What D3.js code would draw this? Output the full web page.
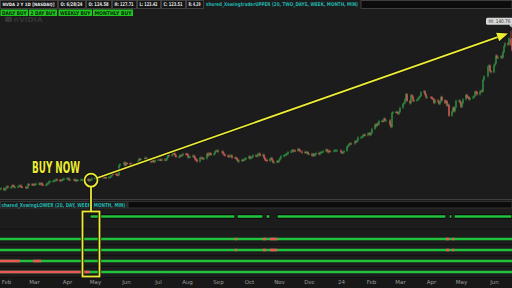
<!DOCTYPE html>
<html>
<head>
<meta charset="utf-8">
<script src="https://cdn.jsdelivr.net/npm/d3@7/dist/d3.min.js"></script>
<style>
html, body { margin: 0; padding: 0; background: #1c1c1c; overflow: hidden; }
svg { display: block; }
</style>
</head>
<body>
<svg id="chart" width="512" height="288"></svg>
<script>
// daily closes (split adjusted), one array per month
var jan23 = [19.8, 20.3, 19.2, 19.5];
var feb23 = [20.9, 21.7, 21.1, 21.1, 22.4, 22.3, 21.3, 21.3, 21.7, 22.2, 22.4, 21.4, 21.3, 20.7, 20.8, 23.4, 23.3, 23.4, 23.2];
var mar23 = [23.0, 23.6, 23.8, 24.0, 23.4, 24.2, 23.1, 22.9, 22.9, 24.0, 24.2, 25.5, 25.7, 25.9, 26.2, 26.5, 27.1, 26.7, 26.5, 26.4, 26.9, 27.3, 27.8];
var apr23 = [27.9, 27.9, 26.8, 27.0, 27.0, 26.6, 26.0, 26.7, 26.7, 27.0, 27.0, 27.0, 27.1, 27.1, 27.0, 26.2, 26.8, 27.2, 27.7];
var may23 = [28.9, 28.2, 27.9, 27.8, 28.7, 29.1, 28.6, 28.9, 28.8, 28.3, 28.9, 29.2, 30.1, 31.6, 31.3, 31.1, 30.6, 30.5, 38.0, 38.9, 40.1, 37.8];
var jun23 = [39.7, 39.3, 39.2, 38.6, 37.4, 38.5, 38.8, 39.5, 41.0, 42.9, 42.7, 42.7, 43.8, 43.0, 43.0, 42.2, 40.6, 41.9, 41.1, 40.8, 42.3];
var jul23 = [42.4, 42.3, 42.2, 42.5, 42.2, 42.4, 43.9, 45.9, 45.5, 46.4, 47.4, 47.1, 45.6, 44.4, 44.6, 45.6, 45.4, 45.9, 46.8, 46.7];
var aug23 = [46.5, 44.2, 44.5, 44.7, 45.4, 44.6, 42.6, 42.4, 40.9, 43.8, 43.9, 43.4, 43.3, 43.3, 46.9, 45.6, 47.2, 47.1, 46.1, 46.8, 48.7, 49.2, 49.3];
var sep23 = [48.5, 48.6, 47.0, 46.2, 45.5, 45.1, 44.8, 45.5, 45.5, 43.9, 43.9, 43.5, 42.2, 41.0, 41.6, 42.2, 41.9, 42.4, 43.0, 43.5];
var oct23 = [44.7, 43.5, 44.0, 44.6, 45.7, 45.2, 45.2, 46.8, 46.9, 45.5, 46.1, 43.9, 42.2, 42.1, 41.3, 42.9, 43.6, 41.8, 40.3, 40.5, 41.1, 40.8];
var nov23 = [42.3, 43.5, 45.0, 45.7, 45.9, 46.6, 46.9, 48.3, 48.6, 49.6, 48.9, 49.4, 49.2, 50.4, 49.9, 48.7, 47.8, 48.3, 47.8, 48.1, 46.8];
var dec23 = [46.8, 45.5, 46.6, 45.5, 46.5, 47.5, 46.6, 47.7, 48.1, 48.3, 48.9, 50.0, 49.6, 48.1, 48.9, 48.8, 49.3, 49.5, 49.5, 49.5];
var jan24 = [48.1, 47.6, 48.0, 49.1, 52.3, 53.1, 54.3, 54.8, 54.7, 56.4, 56.1, 57.1, 59.5, 59.6, 59.9, 61.3, 61.6, 61.0, 62.5, 62.7, 61.5];
var feb24 = [63.0, 66.1, 69.3, 68.2, 70.0, 69.6, 72.1, 72.2, 72.1, 73.9, 72.6, 72.6, 69.4, 67.5, 78.5, 78.9, 79.1, 78.7, 77.7, 79.1];
var mar24 = [82.3, 85.2, 86.0, 88.7, 92.7, 87.5, 85.8, 91.9, 90.9, 87.9, 87.8, 88.4, 89.4, 90.4, 91.4, 94.3, 95.0, 92.6, 90.3, 90.4];
var apr24 = [90.3, 89.4, 88.9, 86.0, 88.0, 87.1, 85.3, 87.0, 90.6, 88.1, 86.0, 87.4, 84.0, 84.6, 76.2, 79.5, 82.4, 79.6, 82.6, 87.7, 87.8, 86.4];
var may24 = [83.0, 85.8, 88.8, 92.1, 90.6, 90.4, 88.7, 89.8, 90.4, 91.3, 94.6, 94.4, 92.5, 94.8, 95.4, 94.9, 103.8, 106.5, 114.0, 114.8, 110.5, 109.6];
var jun24 = [115.0, 116.4, 122.4, 120.9, 120.9, 121.8, 121.0, 125.2, 129.6, 131.9, 130.9, 135.6, 130.8, 126.6, 118.1, 126.1, 126.4, 124.0, 123.5];

var holidays = ["2023-02-20", "2023-04-07", "2023-05-29", "2023-06-19", "2023-07-04", "2023-09-04", "2023-11-23",
    "2023-12-25", "2024-01-01", "2024-01-15", "2024-02-19", "2024-03-29", "2024-05-27", "2024-06-19"];

var hiDate = "2024-06-20";
var hiValue = 140.76;

var tickDates = ["2023-02-01", "2023-03-01", "2023-04-03", "2023-05-01", "2023-06-01", "2023-07-03", "2023-08-01",
    "2023-09-01", "2023-10-02", "2023-11-01", "2023-12-01", "2024-01-02", "2024-02-01", "2024-03-01",
    "2024-04-01", "2024-05-01", "2024-06-03"];
var tickLabels = ["Feb", "Mar", "Apr", "May", "Jun", "Jul", "Aug", "Sep", "Oct", "Nov", "Dec", "24",
    "Feb", "Mar", "Apr", "May", "Jun"];

var headerLabels = ["NVDA 2 Y 1D [NASDAQ]", "O: 6/28/24", "O: 124.58", "H: 127.71", "L: 123.42", "C: 123.51", "R: 4.29"];
var upperStudy = "shared_XswingtraderUPPER (20, TWO_DAYS, WEEK, MONTH, MIN)";
var lowerStudy = "shared_XswingLOWER (20, DAY, WEEK, MONTH, MIN)";
var buyButtons = ["DAILY BUY", "2 DAY BUY", "WEEKLY BUY", "MONTHLY BUY"];

// sell (red) stretches of each signal row
var dayRed = [["2023-09-18", "2023-09-20"], ["2023-10-16", "2023-10-19"], ["2023-10-23", "2023-10-30"], ["2024-04-16", "2024-04-19"], ["2024-04-22", "2024-04-24"]];
var twoDayRed = [["2023-09-18", "2023-09-20"], ["2023-10-16", "2023-10-19"], ["2023-10-23", "2023-10-30"], ["2024-04-16", "2024-04-19"], ["2024-04-22", "2024-04-24"]];
var weekRed = [["2023-01-26", "2023-02-15"], ["2023-02-28", "2023-03-08"]];
var monthRed = [["2023-01-26", "2023-04-26"]];

var buyNow = { date: "2023-04-27", price: 26.6 };
var target = { date: "2024-06-17", price: 139.5 };

var parse = d3.timeParse("%Y-%m-%d");
var fmt = d3.timeFormat("%Y-%m-%d");
var holidaySet = new Set(holidays);

function tradingDays(yr, mo, fromDay) {
    return d3.timeDay.range(new Date(yr, mo, fromDay), new Date(yr, mo + 1, 1)).filter(function (d) {
        var w = d.getDay();
        return w !== 0 && w !== 6 && !holidaySet.has(fmt(d));
    });
}

var months = [
    [2023, 0, 26, jan23], [2023, 1, 1, feb23], [2023, 2, 1, mar23], [2023, 3, 1, apr23], [2023, 4, 1, may23],
    [2023, 5, 1, jun23], [2023, 6, 1, jul23], [2023, 7, 1, aug23], [2023, 8, 1, sep23], [2023, 9, 1, oct23],
    [2023, 10, 1, nov23], [2023, 11, 1, dec23], [2024, 0, 1, jan24], [2024, 1, 1, feb24], [2024, 2, 1, mar24],
    [2024, 3, 1, apr24], [2024, 4, 1, may24], [2024, 5, 1, jun24]
];

var bars = [];
months.forEach(function (m) {
    var days = tradingDays(m[0], m[1], m[2]);
    m[3].forEach(function (c, i) {
        if (!days[i]) return;
        var prev = bars.length ? bars[bars.length - 1].close : c;
        bars.push({ date: days[i], open: prev, close: c });
    });
});

var W = 512, H = 288;
var x = d3.scaleTime().domain([new Date(2023, 0, 26), new Date(2024, 5, 21)]).range([0, W]);
var y = d3.scaleLinear().domain([12.1, 148.3]).range([199, 22]);

var svg = d3.select("#chart");
svg.append("rect").attr("width", W).attr("height", H).attr("fill", "#1c1c1c");

var GREEN = "#2f9a45", RED = "#e2645c";
var SIG_GREEN = "#22c33c", SIG_RED = "#e85a5a", YELLOW = "#ecec34", TEAL = "#21b3ad";

// watermark
var wm = svg.append("g").attr("fill", "#353535");
wm.append("rect").attr("x", 5).attr("y", 16.5).attr("width", 7).attr("height", 5.5).attr("rx", 1.5);
wm.append("text").attr("x", 13.5).attr("y", 22).attr("font-family", "DejaVu Sans").attr("font-weight", "bold")
    .attr("font-size", 7).attr("textLength", 29).attr("lengthAdjust", "spacingAndGlyphs").text("nVIDIA");

// candles
var plot = svg.append("g").attr("clip-path", "url(#clipPrice)");
svg.append("clipPath").attr("id", "clipPrice").append("rect").attr("x", 0).attr("y", 18).attr("width", W).attr("height", 181);

var candle = plot.selectAll("g.c").data(bars).enter().append("g").attr("class", "c");
candle.append("line")
    .attr("x1", function (d) { return x(d.date); })
    .attr("x2", function (d) { return x(d.date); })
    .attr("y1", function (d) {
        var hi = fmt(d.date) === hiDate ? hiValue : Math.max(d.open, d.close);
        return y(hi) - 1.2;
    })
    .attr("y2", function (d) { return y(Math.min(d.open, d.close)) + 1.2; })
    .attr("stroke", function (d) { return d.close >= d.open ? GREEN : RED; })
    .attr("stroke-width", 0.6);
candle.append("rect")
    .attr("x", function (d) { return x(d.date) - 0.6; })
    .attr("width", 1.2)
    .attr("y", function (d) { return y(Math.max(d.open, d.close)); })
    .attr("height", function (d) { return Math.max(1, Math.abs(y(d.open) - y(d.close))); })
    .attr("fill", function (d) { return d.close >= d.open ? GREEN : RED; });

// HI bubble
var hx = x(parse(hiDate)), hy = y(hiValue);
var hb = svg.append("g");
hb.append("rect").attr("x", hx - 25).attr("y", hy - 14).attr("width", 27).attr("height", 7).attr("rx", 1.5).attr("fill", "#d8d8d8");
hb.append("path").attr("d", "M" + (hx - 2) + "," + (hy - 7.2) + "L" + (hx + 0.5) + "," + (hy - 4) + "L" + (hx + 1) + "," + (hy - 7.2) + "Z").attr("fill", "#d8d8d8");
hb.append("text").attr("x", hx - 11.5).attr("y", hy - 8.6).attr("text-anchor", "middle")
    .attr("font-family", "DejaVu Sans Condensed").attr("font-size", 5).attr("fill", "#333")
    .attr("textLength", 22).attr("lengthAdjust", "spacingAndGlyphs").text("HI: " + hiValue.toFixed(2));

// header row
var headerWidths = [58, 28, 26, 25, 24, 25, 18];
var headerSizes = [4.5, 5.2, 5.2, 5.2, 5.2, 5.2, 5.2];
var hx0 = 0;
var head = svg.append("g");
headerLabels.forEach(function (t, i) {
    var w = headerWidths[i];
    head.append("rect").attr("x", hx0 + 0.5).attr("y", 0.5).attr("width", w - 1).attr("height", 8)
        .attr("fill", "#151515").attr("stroke", "#4a4a4a").attr("stroke-width", 0.8);
    head.append("text").attr("x", hx0 + 2.5).attr("y", 6.3).attr("font-family", "DejaVu Sans Condensed")
        .attr("font-weight", "bold").attr("font-size", headerSizes[i]).attr("fill", "#e6e6e6")
        .attr("textLength", w - 6).attr("lengthAdjust", "spacingAndGlyphs").text(t);
    hx0 += w;
});
head.append("text").attr("x", hx0 + 2).attr("y", 6.3).attr("font-family", "DejaVu Sans Condensed")
    .attr("font-weight", "bold").attr("font-size", 5.2).attr("fill", TEAL)
    .attr("textLength", 360 - hx0 - 4).attr("lengthAdjust", "spacingAndGlyphs").text(upperStudy);
head.append("rect").attr("x", 361).attr("y", 0.5).attr("width", 151).attr("height", 8)
    .attr("fill", "#0c0c0c").attr("stroke", "#4a4a4a").attr("stroke-width", 0.8);

var btnX = [0.5, 29, 58.5, 93], btnW = [27.5, 28, 33.5, 40];
buyButtons.forEach(function (t, i) {
    head.append("rect").attr("x", btnX[i]).attr("y", 9.5).attr("width", btnW[i]).attr("height", 6.5).attr("fill", "#1fc41f");
    head.append("text").attr("x", btnX[i] + 1.5).attr("y", 14.8).attr("font-family", "DejaVu Sans Condensed")
        .attr("font-weight", "bold").attr("font-size", 5.2).attr("fill", "#0a2a0a")
        .attr("textLength", btnW[i] - 3).attr("lengthAdjust", "spacingAndGlyphs").text(t);
});

// lower panel frame
svg.append("line").attr("x1", 0).attr("x2", W).attr("y1", 199.5).attr("y2", 199.5).attr("stroke", "#3e3e3e");
svg.append("rect").attr("x", 0.5).attr("y", 201.5).attr("width", 126.5).attr("height", 6.5).attr("fill", "#1a1a1a").attr("stroke", "#3a3a3a").attr("stroke-width", 0.8);
svg.append("rect").attr("x", 128).attr("y", 201.5).attr("width", 384).attr("height", 6.5).attr("fill", "#0b0b0b").attr("stroke", "#3a3a3a").attr("stroke-width", 0.8);
svg.append("text").attr("x", 1.5).attr("y", 206.8).attr("font-family", "DejaVu Sans Condensed")
    .attr("font-weight", "bold").attr("font-size", 5.4).attr("fill", TEAL)
    .attr("textLength", 124).attr("lengthAdjust", "spacingAndGlyphs").text(lowerStudy);

[229, 244.5, 255.5, 266.5, 277.5].forEach(function (yy) {
    svg.append("line").attr("x1", 0).attr("x2", W).attr("y1", yy).attr("y2", yy).attr("stroke", "#121212").attr("stroke-width", 1);
});
svg.append("rect").attr("x", 0).attr("y", 278).attr("width", W).attr("height", 10).attr("fill", "#181818");

// signal rows
var dom = x.domain();
function rangesOf(list) { return list.map(function (r) { return [parse(r[0]), parse(r[1])]; }); }
var rows = [
    { y: 239, red: rangesOf(dayRed) },
    { y: 250, red: rangesOf(twoDayRed) },
    { y: 261, red: rangesOf(weekRed) },
    { y: 272, red: rangesOf(monthRed) }
];

// all-buy row: where no signal row is red
var allRed = [].concat.apply([], rows.map(function (r) { return r.red; })).sort(function (a, b) { return a[0] - b[0]; });
var merged = [];
allRed.forEach(function (r) {
    var last = merged[merged.length - 1];
    if (last && r[0] <= last[1]) { if (r[1] > last[1]) last[1] = r[1]; }
    else merged.push([r[0], r[1]]);
});
var allGreen = [], cur = dom[0];
merged.forEach(function (r) { if (r[0] > cur) allGreen.push([cur, r[0]]); cur = r[1] > cur ? r[1] : cur; });
if (cur < dom[1]) allGreen.push([cur, dom[1]]);

var sig = svg.append("g");
allGreen.forEach(function (r) {
    sig.append("line").attr("x1", x(r[0])).attr("x2", x(r[1])).attr("y1", 216.5).attr("y2", 216.5)
        .attr("stroke", "#0a0a0a").attr("stroke-width", 4.5);
    sig.append("line").attr("x1", x(r[0]) + 0.6).attr("x2", x(r[1]) - 0.6).attr("y1", 216.5).attr("y2", 216.5)
        .attr("stroke", SIG_GREEN).attr("stroke-width", 2.6);
});
rows.forEach(function (row) {
    sig.append("line").attr("x1", 0).attr("x2", W).attr("y1", row.y).attr("y2", row.y)
        .attr("stroke", SIG_GREEN).attr("stroke-width", 2.6);
    row.red.forEach(function (r) {
        sig.append("line").attr("x1", x(r[0])).attr("x2", x(r[1])).attr("y1", row.y).attr("y2", row.y)
            .attr("stroke", SIG_RED).attr("stroke-width", 2.6);
    });
});

// time axis
var axis = svg.append("g").attr("transform", "translate(0,280.5)")
    .call(d3.axisBottom(x).tickValues(tickDates.map(parse)).tickSize(0).tickPadding(0)
        .tickFormat(function (d, i) { return tickLabels[i]; }));
axis.select(".domain").remove();
axis.selectAll("text").attr("font-family", "DejaVu Sans").attr("font-size", 5.5).attr("fill", "#9c9c9c");

// BUY NOW annotation
var bx = x(parse(buyNow.date)), by = y(buyNow.price);
var tx = x(parse(target.date)), ty = y(target.price);
var ann = svg.append("g");
var ang = Math.atan2(ty - by, tx - bx);
var r0 = 6.5;
var sx = bx + r0 * Math.cos(ang), sy = by + r0 * Math.sin(ang);
var hl = 11, hw = 4.5;
var ex = tx - hl * Math.cos(ang), ey = ty - hl * Math.sin(ang);
var head1 = [ex + hw * Math.sin(ang), ey - hw * Math.cos(ang)], head2 = [ex - hw * Math.sin(ang), ey + hw * Math.cos(ang)];

function drawAnn(color, sw) {
    ann.append("circle").attr("cx", bx).attr("cy", by).attr("r", r0).attr("fill", "none").attr("stroke", color).attr("stroke-width", sw);
    ann.append("line").attr("x1", sx).attr("y1", sy).attr("x2", ex).attr("y2", ey).attr("stroke", color).attr("stroke-width", sw);
    ann.append("line").attr("x1", bx).attr("y1", by + r0).attr("x2", bx).attr("y2", 211.5).attr("stroke", color).attr("stroke-width", sw);
    ann.append("rect").attr("x", bx - 8.5).attr("y", 211.5).attr("width", 17).attr("height", 65).attr("fill", "none").attr("stroke", color).attr("stroke-width", sw);
    ann.append("path").attr("d", "M" + tx + "," + ty + "L" + head1 + "L" + head2 + "Z").attr("fill", color)
        .attr("stroke", color).attr("stroke-width", sw - 1.8).attr("stroke-linejoin", "round");
}
drawAnn("#111", 3.4);
drawAnn(YELLOW, 1.8);

ann.append("text").attr("x", bx - 11).attr("y", by - 7).attr("text-anchor", "end")
    .attr("font-family", "DejaVu Sans Condensed").attr("font-weight", "bold").attr("font-size", 15.5)
    .attr("textLength", 48).attr("lengthAdjust", "spacingAndGlyphs")
    .attr("fill", YELLOW).attr("stroke", "#111").attr("stroke-width", 1.6).attr("paint-order", "stroke")
    .text("BUY NOW");
</script>
</body>
</html>
